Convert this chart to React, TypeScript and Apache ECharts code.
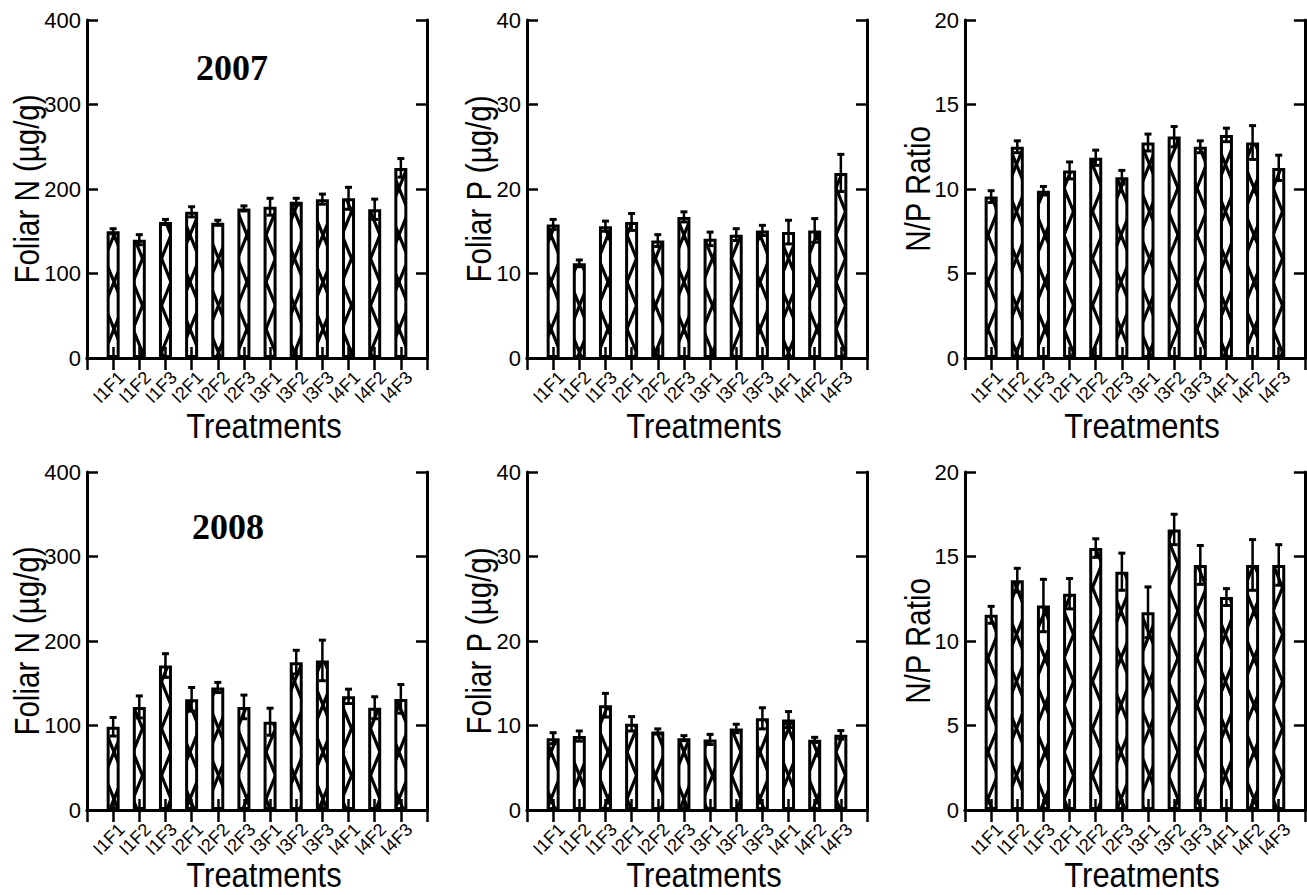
import React, { useEffect, useRef } from 'react';
import * as echarts from 'echarts';

// ---------------- data ----------------
const treatments = ['I1F1', 'I1F2', 'I1F3', 'I2F1', 'I2F2', 'I2F3', 'I3F1', 'I3F2', 'I3F3', 'I4F1', 'I4F2', 'I4F3'];

const n2007 = [150, 140, 161, 173, 160, 177, 179, 185, 188, 189, 176, 225];
const n2007Err = [3, 6, 3, 6, 3, 3, 10, 4, 6, 13, 12, 11];
const p2007 = [15.8, 11.2, 15.6, 16.1, 13.9, 16.7, 14.1, 14.6, 15.1, 14.9, 15.1, 21.9];
const p2007Err = [0.6, 0.4, 0.6, 1.0, 0.7, 0.6, 0.8, 0.7, 0.6, 1.4, 1.4, 2.2];
const np2007 = [9.55, 12.5, 9.9, 11.1, 11.85, 10.7, 12.75, 13.1, 12.5, 13.2, 12.75, 11.25];
const np2007Err = [0.35, 0.35, 0.25, 0.5, 0.45, 0.4, 0.5, 0.6, 0.35, 0.4, 1.0, 0.75];

const n2008 = [98.5, 122, 171, 131, 145, 122, 104.5, 175, 177, 134.5, 121, 131.5];
const n2008Err = [11, 13, 14, 14, 6, 14, 16, 14, 24, 8.5, 13, 17];
const p2008 = [8.5, 8.75, 12.4, 10.2, 9.3, 8.5, 8.35, 9.65, 10.85, 10.7, 8.3, 8.9];
const p2008Err = [0.65, 0.6, 1.4, 0.85, 0.3, 0.3, 0.6, 0.5, 1.25, 0.95, 0.3, 0.5];
const np2008 = [11.55, 13.6, 12.1, 12.8, 15.5, 14.1, 11.7, 16.6, 14.5, 12.6, 14.5, 14.5];
const np2008Err = [0.5, 0.7, 1.55, 0.9, 0.55, 1.1, 1.5, 0.9, 1.15, 0.5, 1.5, 1.2];

const nAxis = { max: 400, step: 100 };
const pAxis = { max: 40, step: 10 };
const npAxis = { max: 20, step: 5 };

const years = ['2007', '2008'];
const xTitle = 'Treatments';
const yTitles = ['Foliar N (µg/g)', 'Foliar P (µg/g)', 'N/P Ratio'];

// ---------------- styling helpers ----------------
const SANS = '"Liberation Sans", Arial, sans-serif';

const TW = 19;
const TH = 47;
function hatchSvg(): string {
  let lines = '';
  for (let k = -1; k <= 1; k++) {
    lines += `<line x1='${-TW}' y1='${k * TH - TH}' x2='${2 * TW}' y2='${k * TH + 2 * TH}'/>`;
  }
  for (let k = 0; k <= 2; k++) {
    lines += `<line x1='${-TW}' y1='${k * TH + TH}' x2='${2 * TW}' y2='${k * TH - 2 * TH}'/>`;
  }
  return `<svg xmlns='http://www.w3.org/2000/svg' width='${TW}' height='${TH}' viewBox='0 0 ${TW} ${TH}'><g stroke='black' stroke-width='3.2' fill='none'>${lines}</g></svg>`;
}

export default function App() {
  const ref = useRef<HTMLDivElement>(null);

  useEffect(() => {
    if (!ref.current) return;
    const chart = echarts.init(ref.current, undefined, { renderer: 'svg' });

    const hatch: any = {
      image: 'data:image/svg+xml;charset=utf-8,' + encodeURIComponent(hatchSvg()),
      repeat: 'repeat',
      imageWidth: TW,
      imageHeight: TH,
    };

    const rows = [
      [
        { vals: n2007, errs: n2007Err, axis: nAxis, title: yTitles[0], off: 61 },
        { vals: p2007, errs: p2007Err, axis: pAxis, title: yTitles[1], off: 49 },
        { vals: np2007, errs: np2007Err, axis: npAxis, title: yTitles[2], off: 48 },
      ],
      [
        { vals: n2008, errs: n2008Err, axis: nAxis, title: yTitles[0], off: 61 },
        { vals: p2008, errs: p2008Err, axis: pAxis, title: yTitles[1], off: 49 },
        { vals: np2008, errs: np2008Err, axis: npAxis, title: yTitles[2], off: 48 },
      ],
    ];
    const lefts = [87, 527, 965];
    const tops = [20, 472];
    const titleDrop = [68, 65];
    const W = 340;
    const H = 338;

    const cats = ['', ...treatments, ''];
    const grid: any[] = [];
    const xAxis: any[] = [];
    const yAxis: any[] = [];
    const series: any[] = [];
    const graphic: any[] = [];

    const lineStyle = { color: '#000', width: 3 };
    const tickStyle = { color: '#000', width: 2.5 };

    rows.forEach((row, r) => {
      row.forEach((p, c) => {
        const gi = grid.length;
        const gl = lefts[c];
        const gt = tops[r];
        grid.push({ left: gl, top: gt, width: W, height: H });
        xAxis.push({
          gridIndex: gi,
          type: 'category',
          data: cats,
          boundaryGap: false,
          position: 'bottom',
          axisLine: { show: true, lineStyle },
          axisTick: { show: true, inside: true, length: 11, interval: 0, lineStyle: tickStyle },
          axisLabel: {
            interval: 0,
            rotate: 45,
            margin: 25,
            padding: [0, -12, 0, 0],
            fontSize: 18,
            color: '#000',
            fontFamily: SANS,
          },
          splitLine: { show: false },
        });
        xAxis.push({
          gridIndex: gi,
          type: 'category',
          data: cats,
          boundaryGap: false,
          position: 'top',
          axisLine: { show: true, lineStyle },
          axisTick: { show: true, inside: true, length: 12, interval: 0, lineStyle: tickStyle },
          axisLabel: { show: false },
          splitLine: { show: false },
        });
        yAxis.push({
          gridIndex: gi,
          type: 'value',
          min: 0,
          max: p.axis.max,
          interval: p.axis.step,
          position: 'left',
          axisLine: { show: true, lineStyle },
          axisTick: { show: true, inside: true, length: 11, lineStyle: tickStyle },
          axisLabel: { fontSize: 22, color: '#000', fontFamily: SANS, margin: 6 },
          splitLine: { show: false },
        });
        yAxis.push({
          gridIndex: gi,
          type: 'value',
          min: 0,
          max: p.axis.max,
          interval: p.axis.step,
          position: 'right',
          axisLine: { show: true, lineStyle },
          axisTick: { show: true, inside: true, length: 11, lineStyle: tickStyle },
          axisLabel: { show: false },
          splitLine: { show: false },
        });
        series.push({
          type: 'bar',
          xAxisIndex: 2 * gi,
          yAxisIndex: 2 * gi,
          data: ['-', ...p.vals, '-'],
          barWidth: 13,
          itemStyle: { color: hatch, borderColor: '#000', borderWidth: 3 },
          z: 2,
        });
        series.push({
          type: 'custom',
          xAxisIndex: 2 * gi,
          yAxisIndex: 2 * gi,
          data: p.vals.map((v, j) => [j + 1, v, p.errs[j]]),
          z: 4,
          renderItem: (params: any, api: any) => {
            const x = api.value(0);
            const m = api.value(1);
            const e = api.value(2);
            const hi = api.coord([x, m + e]);
            const lo = api.coord([x, m - e]);
            const hw = 3.5;
            const st = { stroke: '#000', lineWidth: 2.5 };
            return {
              type: 'group',
              children: [
                { type: 'line', shape: { x1: hi[0], y1: hi[1], x2: lo[0], y2: lo[1] }, style: st },
                { type: 'line', shape: { x1: hi[0] - hw, y1: hi[1], x2: hi[0] + hw, y2: hi[1] }, style: { stroke: '#000', lineWidth: 3 } },
                { type: 'line', shape: { x1: lo[0] - hw, y1: lo[1], x2: lo[0] + hw, y2: lo[1] }, style: { stroke: '#000', lineWidth: 3 } },
              ],
            };
          },
        });
        // axis titles (condensed look via horizontal scale)
        graphic.push({
          type: 'text',
          x: gl + W / 2 + 7,
          y: gt + H + titleDrop[r],
          scaleX: 0.86,
          style: { text: xTitle, font: `36px ${SANS}`, fill: '#000', textAlign: 'center', textVerticalAlign: 'middle' },
        });
        graphic.push({
          type: 'text',
          x: gl - p.off,
          y: gt + H / 2,
          rotation: Math.PI / 2,
          scaleX: 0.82,
          style: { text: p.title, font: `36px ${SANS}`, fill: '#000', textAlign: 'center', textVerticalAlign: 'middle' },
        });
      });
    });

    graphic.push(
      {
        type: 'text',
        x: 232,
        y: 68,
        style: { text: years[0], font: 'bold 36px "Liberation Serif", "Times New Roman", serif', fill: '#000', textAlign: 'center', textVerticalAlign: 'middle' },
        z: 10,
      },
      {
        type: 'text',
        x: 228,
        y: 527,
        style: { text: years[1], font: 'bold 36px "Liberation Serif", "Times New Roman", serif', fill: '#000', textAlign: 'center', textVerticalAlign: 'middle' },
        z: 10,
      }
    );

    chart.setOption({
      animation: false,
      backgroundColor: '#fff',
      grid,
      xAxis,
      yAxis,
      series,
      graphic,
    });

    return () => chart.dispose();
  }, []);

  return <div ref={ref} style={{ position: 'fixed', left: 0, top: 0, width: 1307, height: 895 }} />;
}
